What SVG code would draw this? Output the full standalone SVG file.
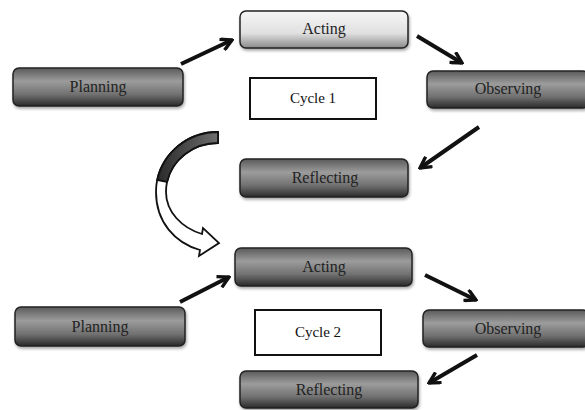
<svg xmlns="http://www.w3.org/2000/svg" width="585" height="410" viewBox="0 0 585 410">
<defs>
<linearGradient id="dark" x1="0" y1="0" x2="0" y2="1">
<stop offset="0" stop-color="#5a5a5a"/>
<stop offset="0.35" stop-color="#9c9c9c"/>
<stop offset="0.7" stop-color="#707070"/>
<stop offset="1" stop-color="#2a2a2a"/>
</linearGradient>
<linearGradient id="light" x1="0" y1="0" x2="0" y2="1">
<stop offset="0" stop-color="#f6f6f6"/>
<stop offset="0.6" stop-color="#e0e0e0"/>
<stop offset="1" stop-color="#8a8a8a"/>
</linearGradient>
<linearGradient id="band" x1="0" y1="0" x2="1" y2="0">
<stop offset="0" stop-color="#2a2a2a"/>
<stop offset="1" stop-color="#6e6e6e"/>
</linearGradient>
<filter id="sh" x="-10%" y="-20%" width="120%" height="150%">
<feDropShadow dx="1" dy="2" stdDeviation="1.5" flood-color="#000" flood-opacity="0.35"/>
</filter>
<marker id="ah" viewBox="0 0 14 14" refX="12" refY="7" markerWidth="14" markerHeight="14" markerUnits="userSpaceOnUse" orient="auto">
<path d="M1,1 L12,7 L1,13" fill="none" stroke="#111" stroke-width="3.4" stroke-linejoin="miter"/>
</marker>
</defs>
<style>
.box{stroke:#222;stroke-width:1.5;filter:url(#sh)}
.dk{fill:url(#dark)}
.lt{fill:url(#light)}
.lbl{font-family:"Liberation Serif","Times New Roman",serif;font-size:16px;fill:#222;text-anchor:middle}
.cyc{fill:#fff;stroke:#111;stroke-width:2}
.ctx{font-family:"Liberation Serif","Times New Roman",serif;font-size:15px;fill:#111;text-anchor:middle}
.arr{stroke:#111;stroke-width:4;fill:none;marker-end:url(#ah)}
</style>
<rect width="585" height="410" fill="#fff"/>

<g id="acting1"><rect class="box lt" x="240" y="11" width="168" height="37" rx="6"/><text class="lbl" x="324" y="34">Acting</text></g>
<g id="planning1"><rect class="box dk" x="13" y="68" width="170" height="38" rx="6"/><text class="lbl" x="98" y="92">Planning</text></g>
<g id="observing1"><rect class="box dk" x="427" y="71" width="162" height="37" rx="6"/><text class="lbl" x="508" y="94">Observing</text></g>
<g id="reflecting1"><rect class="box dk" x="240" y="159" width="168" height="38" rx="6"/><text class="lbl" x="325" y="183">Reflecting</text></g>
<g id="cycle1"><rect class="cyc" x="250" y="78" width="126" height="41"/><text class="ctx" x="313" y="103">Cycle 1</text></g>

<g id="acting2"><rect class="box dk" x="235" y="248" width="177" height="38" rx="6"/><text class="lbl" x="324" y="272">Acting</text></g>
<g id="planning2"><rect class="box dk" x="15" y="307" width="170" height="39" rx="6"/><text class="lbl" x="100" y="332">Planning</text></g>
<g id="observing2"><rect class="box dk" x="423" y="310" width="166" height="37" rx="6"/><text class="lbl" x="508" y="334">Observing</text></g>
<g id="reflecting2"><rect class="box dk" x="240" y="371" width="178" height="37" rx="6"/><text class="lbl" x="329" y="395">Reflecting</text></g>
<g id="cycle2"><rect class="cyc" x="255" y="310" width="126" height="45"/><text class="ctx" x="318" y="337">Cycle 2</text></g>

<g id="connectors">
<line class="arr" x1="181" y1="64" x2="232" y2="40"/>
<line class="arr" x1="417" y1="36" x2="462" y2="63"/>
<line class="arr" x1="479" y1="127" x2="420" y2="168"/>
<line class="arr" x1="180" y1="302" x2="229" y2="277"/>
<line class="arr" x1="425" y1="275" x2="476" y2="300"/>
<line class="arr" x1="477" y1="355" x2="429" y2="383"/>
<g id="cycle-transition">
<path d="M218,132 A62,60 0 0 0 156,192 C156,222 175,243 200,250 L199,256 L219,243 L203,228 L202,234 C182,228 166,212 166,192 A52,49 0 0 1 218,143 Z" fill="#fff" stroke="#111" stroke-width="1.8" stroke-linejoin="miter"/>
<path d="M218,132 A62,60 0 0 0 157.3,180 L167.1,182 A52,49 0 0 1 218,143 Z" fill="url(#band)" stroke="#111" stroke-width="1.8"/>
</g>
</g>
</svg>
